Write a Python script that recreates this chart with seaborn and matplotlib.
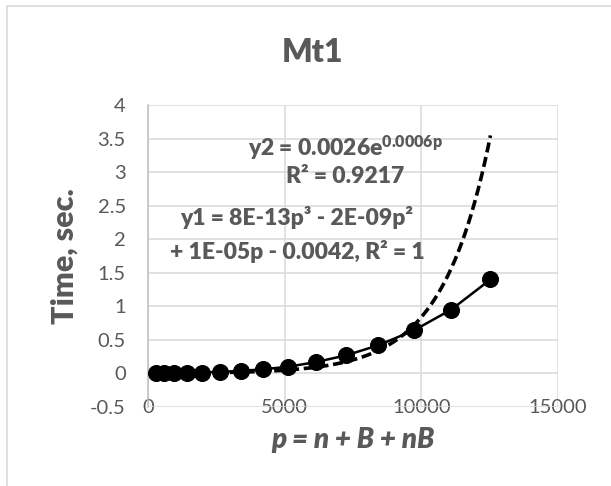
import numpy as np
import pandas as pd
import matplotlib
matplotlib.use("Agg")
import matplotlib.pyplot as plt
import seaborn as sns
from matplotlib.patches import Rectangle

sns.set_style("white")
plt.rcParams.update({
    "font.family":      ["Lato", "DejaVu Sans"],
    "mathtext.fontset": "custom",
    "mathtext.rm":      "Lato",
    "mathtext.bf":      "Lato:heavy",
    "mathtext.it":      "Lato:italic",
})

TEXT = "#595959"
GRID = "#D9D9D9"
HEAVY = "heavy"

# data
p_vals = [285, 590, 950, 1440, 1990, 2630, 3390, 4220, 5130, 6150, 7250, 8430, 9720, 11090, 12530]
t_vals = [0.0008, 0.0015, 0.003, 0.007, 0.014, 0.023, 0.038, 0.062, 0.10, 0.17, 0.27, 0.42, 0.64, 0.95, 1.40]
x_ticks = [0, 5000, 10000, 15000]
y_ticks = [-0.5, 0, 0.5, 1, 1.5, 2, 2.5, 3, 3.5, 4]

df = pd.DataFrame({"p": p_vals, "t": t_vals})

# exponential trendline (least squares on log t, like Excel)
b, ln_a = np.polyfit(df["p"], np.log(df["t"]), 1)
pf = np.linspace(df["p"].min(), df["p"].max(), 300)
trend = pd.DataFrame({"p": pf, "t": np.exp(ln_a + b * pf)})

fig = plt.figure(figsize=(6.11, 4.86), dpi=100)
ax = fig.add_axes([148 / 611, 1 - 407 / 486, 410 / 611, 302 / 486])

sns.lineplot(data=trend, x="p", y="t", ax=ax, color="black", lw=2.6,
             linestyle=(0, (2.8, 1.3)), zorder=3)
sns.lineplot(data=df, x="p", y="t", ax=ax, color="black", lw=1.8,
             marker="o", markersize=11.5, markeredgecolor="black", zorder=4)

ax.set_xlim(0, 15000)
ax.set_ylim(-0.5, 4)
ax.set_xticks(x_ticks)
ax.set_yticks(y_ticks)
ax.set_yticklabels([f"{v:g}" for v in y_ticks])
ax.grid(True, color=GRID, lw=1.1, zorder=0)
ax.set_axisbelow(True)
for s in ["top", "right", "bottom"]:
    ax.spines[s].set_visible(False)
ax.spines["left"].set_color("#BFBFBF")
ax.spines["left"].set_linewidth(1.1)
ax.tick_params(axis="both", length=0, labelcolor=TEXT, labelsize=14.5)
ax.tick_params(axis="x", pad=-6)
ax.tick_params(axis="y", pad=16)

ax.set_xlabel("p = n + B + nB", fontsize=20, fontweight=HEAVY, fontstyle="italic",
              color=TEXT, va="center")
ax.xaxis.set_label_coords(0.5, -0.11)
ax.set_ylabel("Time, sec.", fontsize=22, fontweight=HEAVY, color=TEXT, va="center")
ax.yaxis.set_label_coords(-0.204, 0.5)

fig.text(312 / 611, 1 - 52 / 486, "Mt1", ha="center", va="center",
         fontsize=23, fontweight=HEAVY, color=TEXT)

ann = dict(ha="center", va="center", fontsize=16.5, fontweight=HEAVY, color=TEXT)
ax.text(7226, 3.37, r"y2 = 0.0026e$^{\mathbf{0.0006p}}$", **ann)
ax.text(7226, 2.93, "R² = 0.9217", **ann)
ax.text(5435, 2.33, "y1 = 8E-13p³ - 2E-09p²", **ann)
ax.text(5470, 1.82, "+ 1E-05p - 0.0042, R² = 1", **ann)

fig.patches.append(Rectangle((7 / 611, -0.1), 1.2, 1 - 6 / 486 + 0.1,
                             transform=fig.transFigure, fill=False,
                             edgecolor=GRID, lw=1.2))

fig.savefig("out.png", dpi=100)
